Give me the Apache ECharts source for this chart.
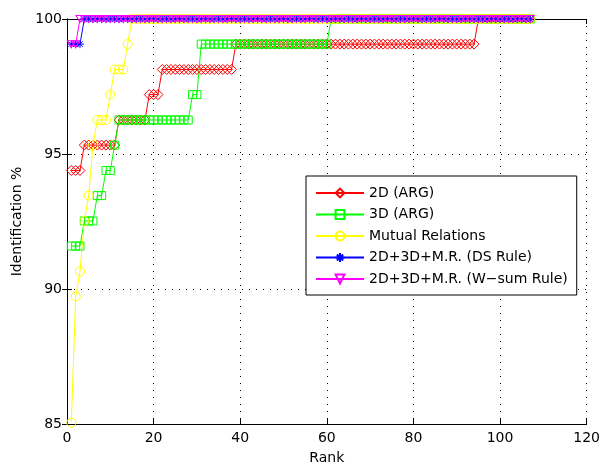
<!DOCTYPE html>
<html>
<head>
<meta charset="utf-8">
<script src="https://cdn.jsdelivr.net/npm/echarts@6.0.0/dist/echarts.min.js"></script>
<style>
  html, body { margin: 0; padding: 0; background: #fff; }
  #chart { width: 603px; height: 470px; }
</style>
</head>
<body>
<div id="chart"></div>
<script>
// identification % per rank (rank 1 .. 107)
const arg2D = [
  94.39, 94.39, 94.39,
  95.33, 95.33, 95.33, 95.33, 95.33, 95.33, 95.33, 95.33,
  96.26, 96.26, 96.26, 96.26, 96.26, 96.26, 96.26,
  97.20, 97.20, 97.20,
  98.13, 98.13, 98.13, 98.13, 98.13, 98.13, 98.13, 98.13, 98.13, 98.13,
  98.13, 98.13, 98.13, 98.13, 98.13, 98.13, 98.13,
  99.07, 99.07, 99.07, 99.07, 99.07, 99.07, 99.07, 99.07, 99.07, 99.07,
  99.07, 99.07, 99.07, 99.07, 99.07, 99.07, 99.07, 99.07, 99.07, 99.07,
  99.07, 99.07, 99.07, 99.07, 99.07, 99.07, 99.07, 99.07, 99.07, 99.07,
  99.07, 99.07, 99.07, 99.07, 99.07, 99.07, 99.07, 99.07, 99.07, 99.07,
  99.07, 99.07, 99.07, 99.07, 99.07, 99.07, 99.07, 99.07, 99.07, 99.07,
  99.07, 99.07, 99.07, 99.07, 99.07, 99.07,
  100, 100, 100, 100, 100, 100, 100, 100, 100, 100,
  100, 100, 100
];

const arg3D = [
  91.59, 91.59, 91.59,
  92.52, 92.52, 92.52,
  93.46, 93.46,
  94.39, 94.39,
  95.33,
  96.26, 96.26, 96.26, 96.26, 96.26, 96.26, 96.26, 96.26, 96.26, 96.26,
  96.26, 96.26, 96.26, 96.26, 96.26, 96.26, 96.26,
  97.20, 97.20,
  99.07, 99.07, 99.07, 99.07, 99.07, 99.07, 99.07, 99.07, 99.07, 99.07,
  99.07, 99.07, 99.07, 99.07, 99.07, 99.07, 99.07, 99.07, 99.07, 99.07,
  99.07, 99.07, 99.07, 99.07, 99.07, 99.07, 99.07, 99.07, 99.07, 99.07,
  100, 100, 100, 100, 100, 100, 100, 100, 100, 100,
  100, 100, 100, 100, 100, 100, 100, 100, 100, 100,
  100, 100, 100, 100, 100, 100, 100, 100, 100, 100,
  100, 100, 100, 100, 100, 100, 100, 100, 100, 100,
  100, 100, 100, 100, 100, 100, 100
];

const mutualRel = [
  85.05, 89.72, 90.65, 92.52, 93.46, 95.33,
  96.26, 96.26, 96.26,
  97.20,
  98.13, 98.13, 98.13,
  99.07,
  100, 100, 100, 100, 100, 100, 100, 100, 100, 100,
  100, 100, 100, 100, 100, 100, 100, 100, 100, 100,
  100, 100, 100, 100, 100, 100, 100, 100, 100, 100,
  100, 100, 100, 100, 100, 100, 100, 100, 100, 100,
  100, 100, 100, 100, 100, 100, 100, 100, 100, 100,
  100, 100, 100, 100, 100, 100, 100, 100, 100, 100,
  100, 100, 100, 100, 100, 100, 100, 100, 100, 100,
  100, 100, 100, 100, 100, 100, 100, 100, 100, 100,
  100, 100, 100, 100, 100, 100, 100, 100, 100, 100,
  100, 100, 100
];

const fusionDS = [
  99.07, 99.07, 99.07,
  100, 100, 100, 100, 100, 100, 100, 100, 100, 100,
  100, 100, 100, 100, 100, 100, 100, 100, 100, 100,
  100, 100, 100, 100, 100, 100, 100, 100, 100, 100,
  100, 100, 100, 100, 100, 100, 100, 100, 100, 100,
  100, 100, 100, 100, 100, 100, 100, 100, 100, 100,
  100, 100, 100, 100, 100, 100, 100, 100, 100, 100,
  100, 100, 100, 100, 100, 100, 100, 100, 100, 100,
  100, 100, 100, 100, 100, 100, 100, 100, 100, 100,
  100, 100, 100, 100, 100, 100, 100, 100, 100, 100,
  100, 100, 100, 100, 100, 100, 100, 100, 100, 100,
  100, 100, 100, 100
];

const fusionWsum = [
  99.07, 99.07,
  100, 100, 100, 100, 100, 100, 100, 100, 100, 100,
  100, 100, 100, 100, 100, 100, 100, 100, 100, 100,
  100, 100, 100, 100, 100, 100, 100, 100, 100, 100,
  100, 100, 100, 100, 100, 100, 100, 100, 100, 100,
  100, 100, 100, 100, 100, 100, 100, 100, 100, 100,
  100, 100, 100, 100, 100, 100, 100, 100, 100, 100,
  100, 100, 100, 100, 100, 100, 100, 100, 100, 100,
  100, 100, 100, 100, 100, 100, 100, 100, 100, 100,
  100, 100, 100, 100, 100, 100, 100, 100, 100, 100,
  100, 100, 100, 100, 100, 100, 100, 100, 100, 100,
  100, 100, 100, 100, 100
];

const seriesNames = [
  '2D (ARG)',
  '3D (ARG)',
  'Mutual Relations',
  '2D+3D+M.R. (DS Rule)',
  '2D+3D+M.R. (W\u2212sum Rule)'
];

const xTicks = { min: 0, max: 120, interval: 20 };
const yTicks = { min: 85, max: 100, interval: 5 };

const FONT = 'DejaVu Sans';

const starPath = 'path://M5,0L5,10M0,5L10,5M1.5,1.5L8.5,8.5M1.5,8.5L8.5,1.5';
const triDownPath = 'path://M0,0L10,0L5,9Z';

function makeSeries(name, values, color, symbol, size) {
  return {
    name: name,
    type: 'line',
    data: values.map((v, i) => [i + 1, v]),
    symbol: symbol,
    symbolSize: size,
    showAllSymbol: true,
    clip: false,
    lineStyle: { color: color, width: 1 },
    itemStyle: { color: 'rgba(0,0,0,0)', borderColor: color, borderWidth: 1 },
    emphasis: { disabled: true }
  };
}

const chart = echarts.init(document.getElementById('chart'));

const dotted = { color: '#000', width: 1, type: [1, 6] };
const blackLine = { show: true, lineStyle: { color: '#000', width: 1 } };
const tickIn = { show: true, inside: true, length: 5, lineStyle: { color: '#000' } };

const option = {
  animation: false,
  backgroundColor: '#fff',
  grid: { left: 67, right: 13, top: 19, bottom: 38 },
  legend: {
    orient: 'vertical',
    left: 306,
    top: 176,
    data: seriesNames,
    itemWidth: 48,
    itemHeight: 11,
    itemGap: 7.5,
    padding: [10, 9, 9, 9],
    borderColor: '#000',
    borderWidth: 1,
    borderRadius: 0,
    backgroundColor: '#fff',
    textStyle: { fontFamily: FONT, fontSize: 14, color: '#000', lineHeight: 13 }
  },
  xAxis: [
    {
      type: 'value',
      min: xTicks.min, max: xTicks.max, interval: xTicks.interval,
      name: 'Rank',
      nameLocation: 'middle',
      nameGap: 27,
      nameTextStyle: { fontFamily: FONT, fontSize: 14, color: '#000' },
      axisLine: blackLine,
      axisTick: tickIn,
      axisLabel: { fontFamily: FONT, fontSize: 14, color: '#000', margin: 7 },
      splitLine: { show: true, lineStyle: dotted }
    },
    {
      type: 'value',
      position: 'top',
      min: xTicks.min, max: xTicks.max, interval: xTicks.interval,
      axisLine: blackLine,
      axisTick: tickIn,
      axisLabel: { show: false },
      splitLine: { show: false }
    }
  ],
  yAxis: [
    {
      type: 'value',
      min: yTicks.min, max: yTicks.max, interval: yTicks.interval,
      name: 'Identification %',
      nameLocation: 'middle',
      nameGap: 36,
      nameTextStyle: { fontFamily: FONT, fontSize: 14, color: '#000' },
      axisLine: blackLine,
      axisTick: tickIn,
      axisLabel: { fontFamily: FONT, fontSize: 14, color: '#000', margin: 5 },
      splitLine: { show: true, lineStyle: dotted }
    },
    {
      type: 'value',
      position: 'right',
      min: yTicks.min, max: yTicks.max, interval: yTicks.interval,
      axisLine: blackLine,
      axisTick: tickIn,
      axisLabel: { show: false },
      splitLine: { show: false }
    }
  ],
  series: [
    makeSeries(seriesNames[0], arg2D, '#ff0000', 'diamond', 10),
    makeSeries(seriesNames[1], arg3D, '#00ff00', 'rect', 8),
    makeSeries(seriesNames[2], mutualRel, '#ffff00', 'circle', 9),
    makeSeries(seriesNames[3], fusionDS, '#0000ff', starPath, 8),
    makeSeries(seriesNames[4], fusionWsum, '#ff00ff', triDownPath, [8, 7])
  ]
};

chart.setOption(option);
</script>
</body>
</html>
